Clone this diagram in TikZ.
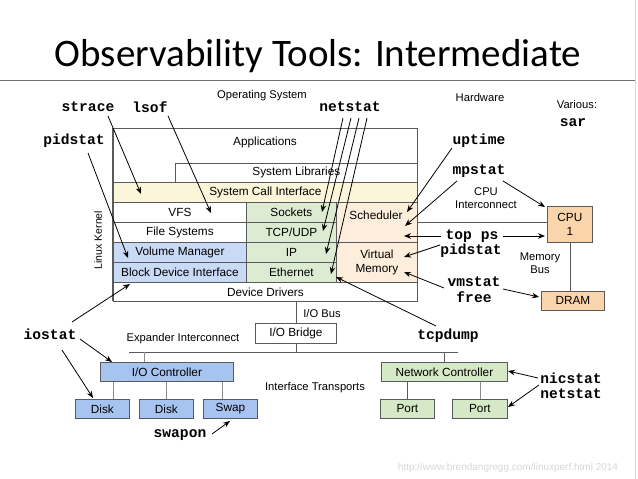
\documentclass[tikz,border=0pt]{standalone}
\usepackage{fontspec}
\newfontfamily\sansf{Liberation Sans}
\newfontfamily\monof{Liberation Mono}
\newfontfamily\titlef{Carlito}
\usetikzlibrary{arrows.meta}
\definecolor{cellline}{HTML}{5A5A5A}
\definecolor{sciyel}{HTML}{FBF5DA}
\definecolor{netgreen}{HTML}{DDEBD3}
\definecolor{hwgreen}{HTML}{D6E9C6}
\definecolor{volblue}{HTML}{C8DAF5}
\definecolor{ctlblue}{HTML}{A7C3EF}
\definecolor{schedorange}{HTML}{FDEEDB}
\definecolor{cpuorange}{HTML}{FAD4AB}
\definecolor{urlgray}{HTML}{D8D8D8}
\definecolor{rulegray}{HTML}{707070}
\definecolor{wiregray}{HTML}{8C8C8C}
\begin{document}
\begin{tikzpicture}[x=1pt,y=-1pt,
  cell/.style={draw=cellline, line width=0.8pt, anchor=north west, inner sep=0pt, font=\sansf\fontsize{11.8}{14}\selectfont, align=center},
  txt/.style={inner sep=0pt, font=\sansf\fontsize{11.8}{14}\selectfont, align=center},
  lbl/.style={inner sep=0pt, font=\sansf\fontsize{11.2}{13}\selectfont, align=center},
  cmd/.style={inner sep=0pt, font=\monof\bfseries\fontsize{14.6}{16}\selectfont},
  arr/.style={-{Stealth[length=7pt,width=5.5pt]}, line width=0.8pt, black},
  wire/.style={line width=0.8pt, draw=cellline},
  lwire/.style={line width=0.8pt, draw=wiregray}]
\useasboundingbox (0,0) rectangle (638,479);
\fill[white] (0,0) rectangle (638,479);
% slide frame
\coordinate (ruleL) at (0,80);
\coordinate (ruleR) at (635,80);
\coordinate (frameT) at (635,0);
\coordinate (frameB) at (635,479);
\draw[rulegray, line width=1pt] (ruleL) -- (ruleR);
\draw[urlgray, line width=0.8pt] (frameT) -- (frameB);
\node[inner sep=0pt, font=\titlef\fontsize{39}{44}\selectfont, anchor=base] (title) at (318,66) {Observability Tools: Intermediate};

% headings
\node[lbl] (os) at (262,96) {Operating System};
\node[lbl] (hw) at (480,97) {Hardware};
\node[lbl] (various) at (577,104) {Various:};
\node[cmd] (sar) at (573,123) {sar};

% kernel stack
\node[cell, minimum width=304, minimum height=54] (apps) at (113,128) {};
\node[txt] (appstext) at (265,142) {Applications};
\node[cell, fill=white, minimum width=242, minimum height=19] (syslib) at (175,163) {System Libraries};
\node[cell, fill=sciyel, minimum width=304, minimum height=20] (sci) at (113,182) {System Call Interface};
\node[cell, fill=white, minimum width=133, minimum height=20] (vfs) at (113,202) {VFS};
\node[cell, fill=white, minimum width=133, minimum height=20] (fs) at (113,222) {File Systems};
\node[cell, fill=volblue, minimum width=133, minimum height=20] (volmgr) at (113,242) {Volume Manager};
\node[cell, fill=volblue, minimum width=133, minimum height=20] (bdi) at (113,262) {Block Device Interface};
\node[cell, fill=netgreen, minimum width=90, minimum height=20] (sock) at (246,202) {Sockets};
\node[cell, fill=netgreen, minimum width=90, minimum height=20] (tcp) at (246,222) {TCP/UDP};
\node[cell, fill=netgreen, minimum width=90, minimum height=20] (ip) at (246,242) {IP};
\node[cell, fill=netgreen, minimum width=90, minimum height=20] (eth) at (246,262) {Ethernet};
\node[cell, fill=schedorange, minimum width=81, minimum height=40] (sched) at (336,202) {};
\node[txt] (schedtext) at (376,215) {Scheduler};
\node[cell, fill=schedorange, minimum width=81, minimum height=40] (vmem) at (336,242) {Virtual\\Memory};
\node[cell, fill=white, minimum width=304, minimum height=19] (dd) at (113,282) {Device Drivers};
\coordinate (kernT) at (113,128);
\coordinate (kernB) at (113,301);
\draw[cellline, line width=1.6pt] (kernT) -- (kernB);
\node[lbl, rotate=90, font=\sansf\fontsize{10.5}{12}\selectfont] (linuxkernel) at (98,240) {Linux Kernel};

% hardware
\node[cell, fill=cpuorange, minimum width=45, minimum height=36] (cpu) at (547,206) {CPU\\1};
\node[cell, fill=cpuorange, minimum width=63, minimum height=19] (dram) at (541,291) {DRAM};
\draw[wire] (sched.east) -- (sched.east -| cpu.west);
\draw[wire] (cpu.south) -- (cpu.south |- dram.north);
\node[lbl] (cpuic) at (486,198) {CPU\\Interconnect};
\node[lbl] (membus) at (540,263) {Memory\\Bus};

\node[cell, fill=white, minimum width=81, minimum height=20] (iobridge) at (255,323) {I/O Bridge};
\draw[wire] (iobridge.north) -- (iobridge.north |- dd.south);
\node[lbl] (iobus) at (322,313) {I/O Bus};
\coordinate (busL) at (129,352);
\coordinate (busR) at (458,352);
\draw[wire] (busL) -- (busR);
\draw[wire] (iobridge.south) -- (iobridge.south |- busL);
\node[lbl] (expander) at (183,339) {Expander Interconnect};
\node[lbl] (ifacetr) at (315,388) {Interface Transports};

\node[cell, fill=ctlblue, minimum width=133, minimum height=19] (ioctl) at (100,362) {I/O Controller};
\node[cell, fill=ctlblue, minimum width=54, minimum height=19] (disk1) at (75,399) {Disk};
\node[cell, fill=ctlblue, minimum width=54, minimum height=19] (disk2) at (139,399) {Disk};
\node[cell, fill=ctlblue, minimum width=54, minimum height=19] (swap) at (203,399) {Swap};
\draw[lwire] ([xshift=44pt]ioctl.north west) -- ([xshift=44pt]ioctl.north west |- busL);
\draw[lwire] ([xshift=11pt]disk1.north) -- ([xshift=11pt]disk1.north |- ioctl.south);
\draw[lwire] (disk2.north) -- (disk2.north |- ioctl.south);
\draw[lwire] ([xshift=-8pt]swap.north) -- ([xshift=-8pt]swap.north |- ioctl.south);

\node[cell, fill=hwgreen, minimum width=126, minimum height=19] (netctl) at (381,362) {Network Controller};
\node[cell, fill=hwgreen, minimum width=54, minimum height=19] (port1) at (380,399) {Port};
\node[cell, fill=hwgreen, minimum width=55, minimum height=19] (port2) at (452,399) {Port};
\draw[wire] (netctl.north) -- (netctl.north |- busR);
\draw[wire] (port1.north) -- (port1.north |- netctl.south);
\draw[lwire] (port2.north) -- (port2.north |- netctl.south);

% tool labels
\node[cmd] (strace) at (88,107) {strace};
\node[cmd] (lsof) at (150,107) {lsof};
\node[cmd] (netstatA) at (350,107) {netstat};
\node[cmd] (pidstatA) at (74,141) {pidstat};
\node[cmd] (uptime) at (479,141) {uptime};
\node[cmd] (mpstat) at (479,171) {mpstat};
\node[cmd] (topps) at (472,236) {top ps};
\node[cmd] (pidstatB) at (471,251) {pidstat};
\node[cmd] (vmstat) at (474,282) {vmstat};
\node[cmd] (free) at (474,297) {free};
\node[cmd] (tcpdump) at (448,336) {tcpdump};
\node[cmd] (iostat) at (50,334) {iostat};
\node[cmd] (swapon) at (180,435) {swapon};
\node[cmd] (nicstat) at (571,378) {nicstat};
\node[cmd] (netstatB) at (571,394) {netstat};
\node[inner sep=0pt, font=\sansf\fontsize{10}{12}\selectfont, text=urlgray] (url) at (508,468) {http://www.brendangregg.com/linuxperf.html 2014};

% arrow end points
\coordinate (s1) at (108,116); \coordinate (t1) at (141,194);
\coordinate (s2) at (168,116); \coordinate (t2) at (211,213);
\coordinate (s3) at (88,153);  \coordinate (t3) at (128,258);
\coordinate (s4) at (343,118); \coordinate (t4) at (322,212);
\coordinate (s5) at (351,118); \coordinate (t5) at (323,231);
\coordinate (s6) at (359,118); \coordinate (t6) at (326,254);
\coordinate (s7) at (367,118); \coordinate (t7) at (331,274);
\coordinate (s8) at (452,148); \coordinate (t8) at (407,212);
\coordinate (s9) at (457,181); \coordinate (t9) at (405,226);
\coordinate (s10) at (503,181); \coordinate (t10) at (545,207);
\coordinate (s11) at (441,236); \coordinate (t11) at (404,236);
\coordinate (s12) at (503,236); \coordinate (t12) at (545,236);
\coordinate (s13) at (440,245); \coordinate (t13) at (404,257);
\coordinate (s14) at (444,288); \coordinate (t14) at (404,272);
\coordinate (s15) at (503,289); \coordinate (t15) at (539,297);
\coordinate (s16) at (436,326); \coordinate (t16) at (336,277);
\coordinate (s17) at (72,322);  \coordinate (t17) at (130,284);
\coordinate (s18) at (80,339);  \coordinate (t18) at (112,362);
\coordinate (s19) at (62,350);  \coordinate (t19) at (93,398);
\coordinate (s20) at (212,434); \coordinate (t20) at (230,421);
\coordinate (s21) at (538,378); \coordinate (t21) at (508,371);
\coordinate (s22) at (539,385); \coordinate (t22) at (508,407);
\foreach \i in {1,...,22} {\draw[arr] (s\i) -- (t\i);}
\end{tikzpicture}
\end{document}
